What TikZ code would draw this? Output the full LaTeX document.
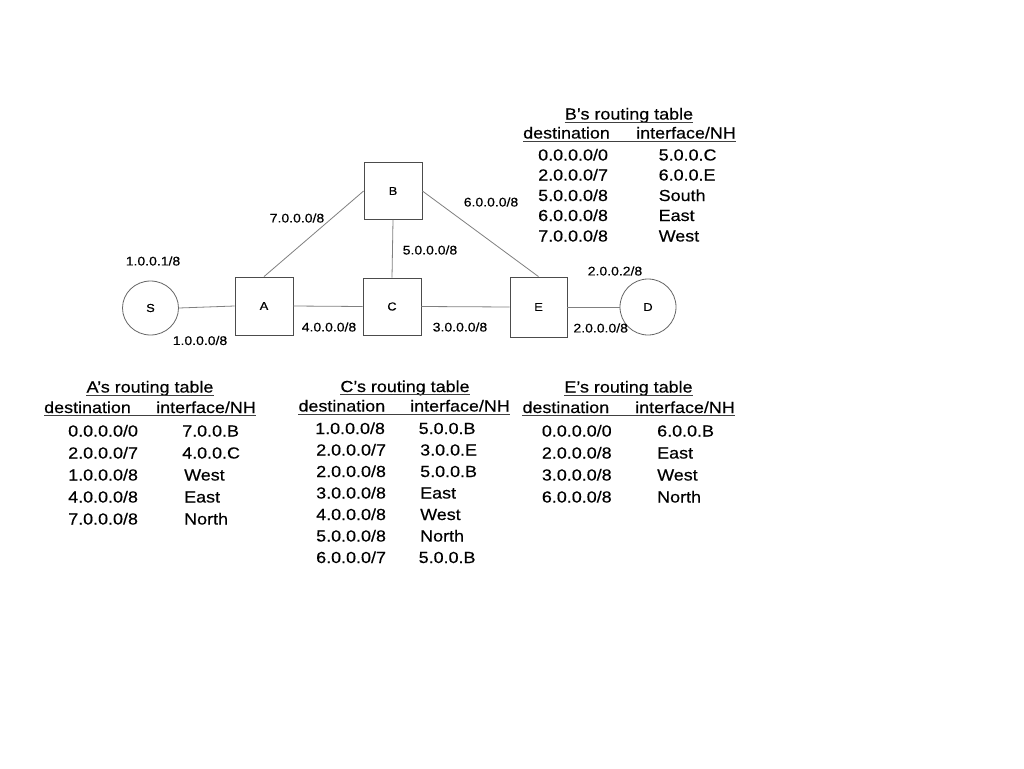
\documentclass[tikz,border=0pt]{standalone}
\usepackage{fontspec}
\setmainfont[FakeStretch=1.12,FakeBold=0.35]{Liberation Sans}
\usetikzlibrary{shapes.geometric}
\tikzset{
  router/.style={draw=black!70, line width=0.8pt, minimum width=58pt, minimum height=58pt, inner sep=0pt, font=\fontsize{11.5}{13}\selectfont},
  host/.style={ellipse, draw=black!60, line width=0.8pt, minimum width=56pt, minimum height=54pt, inner sep=0pt, font=\fontsize{11.5}{13}\selectfont},
  link/.style={draw=black!50, line width=0.8pt},
  lbl/.style={font=\fontsize{12.5}{14}\selectfont, inner sep=0pt},
  ttl/.style={font=\fontsize{16}{18}\selectfont, inner sep=0pt, anchor=base},
  cell/.style={font=\fontsize{16}{18}\selectfont, inner sep=0pt, anchor=base west},
  uline/.style={line width=0.9pt, draw=black!75}
}
\begin{document}
\begin{tikzpicture}[x=1pt,y=-1pt]
\useasboundingbox[fill=white] (0,0) rectangle (1024,768);

% network nodes
\node[host] (S) at (150.5,308) {S};
\node[router] (A) at (264,306) {A};
\node[router, minimum height=57pt] (B) at (393,191) {B};
\node[router, minimum height=57pt] (C) at (392,306.5) {C};
\node[router, minimum width=57pt, minimum height=60pt] (E) at (538.5,307) {E};
\node[host, minimum height=56pt] (D) at (648,307) {D};

% connectors
\draw[link] (S.east) -- (A.west);
\draw[link] (A.east) -- (C.west);
\draw[link] (C.east) -- (E.west);
\draw[link] (E.east) -- (D.west);
\draw[link] (A.north) -- (B.west);
\draw[link] (B.east) -- (E.north);
\draw[link] (B.south) -- (C.north);

% link labels
\node[lbl] (l7) at (297,218) {7.0.0.0/8};
\node[lbl] (l6) at (491,202) {6.0.0.0/8};
\node[lbl] (l5) at (430,250) {5.0.0.0/8};
\node[lbl] (l1s) at (153,261) {1.0.0.1/8};
\node[lbl] (l1) at (200,340.5) {1.0.0.0/8};
\node[lbl] (l4) at (329,327) {4.0.0.0/8};
\node[lbl] (l3) at (460,327) {3.0.0.0/8};
\node[lbl] (l2d) at (615,271) {2.0.0.2/8};
\node[lbl] (l2) at (600.7,328) {2.0.0.0/8};

% ---------- B's table ----------
\node[ttl] (bt) at (629,119.5) {B’s routing table};
\draw[uline] ([yshift=-2.5pt]bt.base west) -- ([yshift=-2.5pt]bt.base east);
\node[cell] (bhd) at (523,138.5) {destination};
\node[cell] (bhi) at (636,138.5) {interface/NH};
\draw[uline] ([yshift=-2.5pt]bhd.base west) -- ([yshift=-2.5pt]bhi.base east);
\node[cell] (b1a) at (538,160.5) {0.0.0.0/0}; \node[cell] (b1b) at (658.5,160.5) {5.0.0.C};
\node[cell] (b2a) at (538,180.5) {2.0.0.0/7}; \node[cell] (b2b) at (658.5,180.5) {6.0.0.E};
\node[cell] (b3a) at (538,201) {5.0.0.0/8};   \node[cell] (b3b) at (658.5,201) {South};
\node[cell] (b4a) at (538,221) {6.0.0.0/8};   \node[cell] (b4b) at (658.5,221) {East};
\node[cell] (b5a) at (538,241.5) {7.0.0.0/8}; \node[cell] (b5b) at (658.5,241.5) {West};

% ---------- A's table ----------
\node[ttl] (at) at (150,392.5) {A’s routing table};
\draw[uline] ([yshift=-2.5pt]at.base west) -- ([yshift=-2.5pt]at.base east);
\node[cell] (ahd) at (44,413) {destination};
\node[cell] (ahi) at (156,413) {interface/NH};
\draw[uline] ([yshift=-2.5pt]ahd.base west) -- ([yshift=-2.5pt]ahi.base east);
\node[cell] (a1a) at (68,436.5) {0.0.0.0/0}; \node[cell] (a1b) at (182,436.5) {7.0.0.B};
\node[cell] (a2a) at (68,458.5) {2.0.0.0/7}; \node[cell] (a2b) at (182,458.5) {4.0.0.C};
\node[cell] (a3a) at (68,480.5) {1.0.0.0/8}; \node[cell] (a3b) at (184,480.5) {West};
\node[cell] (a4a) at (68,502.5) {4.0.0.0/8}; \node[cell] (a4b) at (184,502.5) {East};
\node[cell] (a5a) at (68,524.5) {7.0.0.0/8}; \node[cell] (a5b) at (184,524.5) {North};

% ---------- C's table ----------
\node[ttl] (ct) at (405,392) {C’s routing table};
\draw[uline] ([yshift=-2.5pt]ct.base west) -- ([yshift=-2.5pt]ct.base east);
\node[cell] (chd) at (298.3,411.5) {destination};
\node[cell] (chi) at (410,411.5) {interface/NH};
\draw[uline] ([yshift=-2.5pt]chd.base west) -- ([yshift=-2.5pt]chi.base east);
\node[cell] (c1a) at (315,434) {1.0.0.0/8};   \node[cell] (c1b) at (418.5,434) {5.0.0.B};
\node[cell] (c2a) at (316,455.5) {2.0.0.0/7}; \node[cell] (c2b) at (420,455.5) {3.0.0.E};
\node[cell] (c3a) at (316,477) {2.0.0.0/8};   \node[cell] (c3b) at (420,477) {5.0.0.B};
\node[cell] (c4a) at (316,498.5) {3.0.0.0/8}; \node[cell] (c4b) at (420,498.5) {East};
\node[cell] (c5a) at (316,520) {4.0.0.0/8};   \node[cell] (c5b) at (420,520) {West};
\node[cell] (c6a) at (316,541.5) {5.0.0.0/8}; \node[cell] (c6b) at (420,541.5) {North};
\node[cell] (c7a) at (316,563) {6.0.0.0/7};   \node[cell] (c7b) at (418.5,563) {5.0.0.B};

% ---------- E's table ----------
\node[ttl] (et) at (628.5,392.5) {E’s routing table};
\draw[uline] ([yshift=-2.5pt]et.base west) -- ([yshift=-2.5pt]et.base east);
\node[cell] (ehd) at (522.3,413) {destination};
\node[cell] (ehi) at (635,413) {interface/NH};
\draw[uline] ([yshift=-2.5pt]ehd.base west) -- ([yshift=-2.5pt]ehi.base east);
\node[cell] (e1a) at (541.7,436.5) {0.0.0.0/0}; \node[cell] (e1b) at (657,436.5) {6.0.0.B};
\node[cell] (e2a) at (541.7,458.5) {2.0.0.0/8}; \node[cell] (e2b) at (657,458.5) {East};
\node[cell] (e3a) at (541.7,480.5) {3.0.0.0/8}; \node[cell] (e3b) at (657,480.5) {West};
\node[cell] (e4a) at (541.7,502.5) {6.0.0.0/8}; \node[cell] (e4b) at (657,502.5) {North};
\end{tikzpicture}
\end{document}
